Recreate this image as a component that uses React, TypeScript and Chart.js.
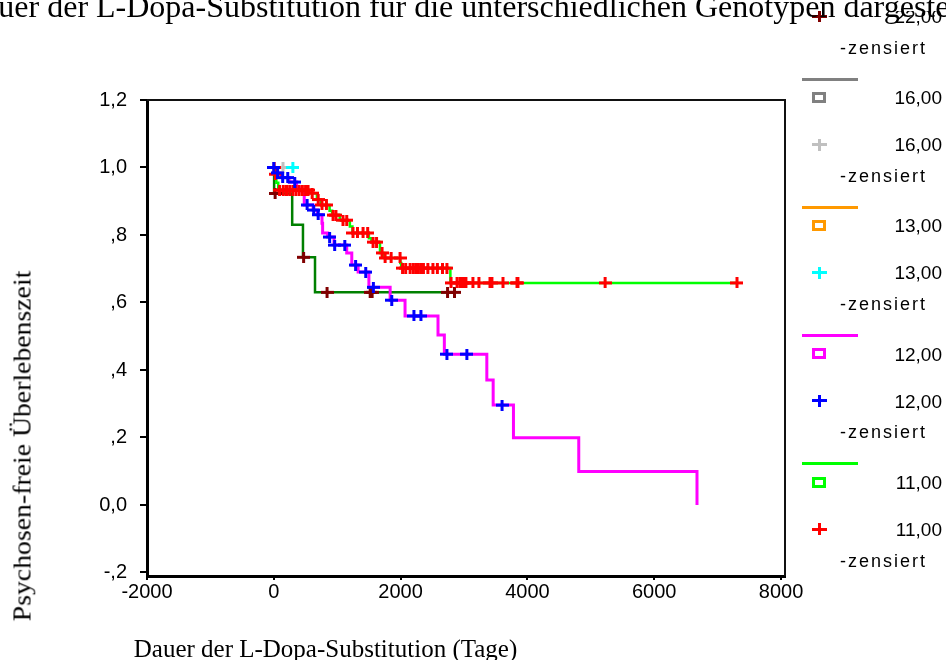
import { useEffect, useRef } from "react";
import { Chart, registerables } from "chart.js";

Chart.register(...registerables);

// ---------- data ----------
const xTicks = [-2000, 0, 2000, 4000, 6000, 8000];
const yTicks = [-0.2, 0.0, 0.2, 0.4, 0.6, 0.8, 1.0, 1.2];
const yTickLabels = ["-,2", "0,0", ",2", ",4", ",6", ",8", "1,0", "1,2"];

const xTitle = "Dauer der L-Dopa-Substitution (Tage)";
const yTitle = "Psychosen-freie Überlebenszeit";
const topText = "Dauer der L-Dopa-Substitution für die unterschiedlichen Genotypen dargestellt";

// Genotype 11,00
const g11Days = [0, 15, 40, 70, 560, 680, 740, 880, 920, 1040, 1200, 1240, 1500, 1540, 1675, 1740, 1995, 2010, 2785, 7305];
const g11Surv = [1.0, 0.98, 0.955, 0.933, 0.924, 0.905, 0.889, 0.872, 0.859, 0.844, 0.825, 0.806, 0.79, 0.779, 0.747, 0.732, 0.717, 0.702, 0.658, 0.658];
const g11Cens = [5, 25, 90, 150, 200, 250, 300, 350, 400, 450, 500, 540, 605, 700, 760, 830, 934, 980, 1091, 1150, 1249, 1320, 1407, 1480, 1565, 1620, 1707, 1755, 1850, 1991, 2030, 2080, 2150, 2200, 2240, 2280, 2320, 2360, 2430, 2510, 2580, 2660, 2730, 2795, 2890, 2935, 2970, 3000, 3030, 3140, 3235, 3410, 3440, 3615, 3835, 3850, 5225, 7305];

// Genotype 12,00
const g12Days = [0, 20, 120, 240, 360, 400, 480, 620, 690, 760, 770, 850, 950, 1150, 1230, 1330, 1500, 1835, 2070, 2590, 2690, 3360, 3460, 3780, 4810, 6675];
const g12Surv = [1.0, 0.984, 0.97, 0.957, 0.94, 0.93, 0.889, 0.874, 0.86, 0.835, 0.806, 0.794, 0.77, 0.747, 0.711, 0.69, 0.645, 0.607, 0.56, 0.504, 0.447, 0.37, 0.296, 0.199, 0.099, 0.0];
const g12Cens = [0, 60, 140, 220, 330, 525, 630, 700, 880, 960, 1120, 1290, 1450, 1570, 1860, 2210, 2320, 2730, 3045, 3600];

// Genotype 13,00
const g13Days = [0, 300];
const g13Surv = [1.0, 1.0];
const g13Cens = [300];

// Genotype 16,00
const g16Days = [0, 145];
const g16Surv = [1.0, 1.0];
const g16Cens = [145];

// Genotype 22,00
const g22Days = [0, 5, 290, 460, 650, 2850];
const g22Surv = [1.0, 0.923, 0.83, 0.734, 0.63, 0.63];
const g22Cens = [20, 470, 840, 1520, 1550, 2740, 2850];

const groupLabels = ["22,00", "16,00", "13,00", "12,00", "11,00"];
const censLabel = "-zensiert";

// ---------- styles ----------
const colors = {
  g11Line: "#00ff00", g11Cens: "#ff0000",
  g12Line: "#ff00ff", g12Cens: "#0000ff",
  g13Line: "#ff9900", g13Cens: "#00ffff",
  g16Line: "#808080", g16Cens: "#c0c0c0",
  g22Line: "#008000", g22Cens: "#800000",
};

const legendGroups = [
  { label: groupLabels[0], line: colors.g22Line, cens: colors.g22Cens },
  { label: groupLabels[1], line: colors.g16Line, cens: colors.g16Cens },
  { label: groupLabels[2], line: colors.g13Line, cens: colors.g13Cens },
  { label: groupLabels[3], line: colors.g12Line, cens: colors.g12Cens },
  { label: groupLabels[4], line: colors.g11Line, cens: colors.g11Cens },
];

function survAt(days: number[], surv: number[], d: number) {
  let v = surv[0];
  for (let i = 0; i < days.length; i++) if (days[i] <= d) v = surv[i];
  return v;
}

function makeCross(color: string, w = 13, h = 11, lw = 3) {
  const c = document.createElement("canvas");
  c.width = w;
  c.height = h;
  const ctx = c.getContext("2d")!;
  ctx.fillStyle = color;
  ctx.fillRect(0, Math.round((h - lw) / 2), w, lw);
  ctx.fillRect(Math.round((w - lw) / 2), 0, lw, h);
  return c;
}

function lineDs(days: number[], surv: number[], color: string, width: number) {
  return {
    type: "line" as const,
    data: days.map((d, i) => ({ x: d, y: surv[i] })),
    stepped: "before" as const,
    borderColor: color,
    borderWidth: width,
    pointRadius: 0,
    fill: false,
    tension: 0,
  };
}

function censDs(cens: number[], days: number[], surv: number[], color: string) {
  return {
    type: "line" as const,
    data: cens.map((d) => ({ x: d, y: survAt(days, surv, d) })),
    showLine: false,
    pointStyle: makeCross(color),
    pointRadius: 6,
    borderColor: color,
    backgroundColor: color,
  };
}

const boxPlugin = {
  id: "boxPlugin",
  afterDraw(chart: any) {
    const { ctx, chartArea } = chart;
    ctx.save();
    ctx.strokeStyle = "#111";
    ctx.lineWidth = 2;
    ctx.beginPath();
    ctx.moveTo(chartArea.left, chartArea.top);
    ctx.lineTo(chartArea.right, chartArea.top);
    ctx.lineTo(chartArea.right, chartArea.bottom);
    ctx.stroke();
    ctx.restore();
  },
};

function LegendPlus({ x, y, color }: { x: number; y: number; color: string }) {
  const w = 15, h = 12, t = 3;
  return (
    <div style={{ position: "absolute", left: x - w / 2, top: y - h / 2, width: w, height: h }}>
      <div style={{ position: "absolute", left: 0, top: (h - t) / 2, width: w, height: t, background: color }} />
      <div style={{ position: "absolute", left: (w - t) / 2, top: 0, width: t, height: h, background: color }} />
    </div>
  );
}

export default function App() {
  const ref = useRef<HTMLCanvasElement>(null);

  useEffect(() => {
    const datasets: any[] = [
      censDs(g12Cens, g12Days, g12Surv, colors.g12Cens),
      censDs(g11Cens, g11Days, g11Surv, colors.g11Cens),
      censDs(g13Cens, g13Days, g13Surv, colors.g13Cens),
      censDs(g16Cens, g16Days, g16Surv, colors.g16Cens),
      censDs(g22Cens, g22Days, g22Surv, colors.g22Cens),
      lineDs(g11Days, g11Surv, colors.g11Line, 2.5),
      lineDs(g12Days, g12Surv, colors.g12Line, 3),
      lineDs(g13Days, g13Surv, colors.g13Line, 2.5),
      lineDs(g16Days, g16Surv, colors.g16Line, 2.5),
      lineDs(g22Days, g22Surv, colors.g22Line, 2.5),
    ];
    const chart = new Chart(ref.current!, {
      type: "line",
      data: { datasets },
      plugins: [boxPlugin],
      options: {
        animation: false,
        responsive: false,
        events: [],
        layout: { padding: { left: 87, right: 161, top: 100, bottom: 44 } },
        plugins: { legend: { display: false }, tooltip: { enabled: false }, title: { display: false } },
        scales: {
          x: {
            type: "linear",
            min: -2000,
            max: 8063,
            afterBuildTicks: (s: any) => { s.ticks = xTicks.map((v) => ({ value: v })); },
            afterFit: (s: any) => { s.height = 40; },
            ticks: {
              autoSkip: false,
              maxRotation: 0,
              color: "#000",
              padding: 0,
              font: { family: "Liberation Sans", size: 20 },
              callback: (v: any) => String(v),
            },
            grid: { display: true, drawOnChartArea: false, drawTicks: true, tickLength: 4, color: "#000", lineWidth: 2 },
            border: { display: true, color: "#000", width: 3 },
          },
          y: {
            type: "linear",
            min: -0.2104,
            max: 1.2,
            afterBuildTicks: (s: any) => { s.ticks = yTicks.map((v) => ({ value: v })); },
            afterFit: (s: any) => { s.width = 60; },
            ticks: {
              autoSkip: false,
              color: "#000",
              padding: 13,
              font: { family: "Liberation Sans", size: 20 },
              callback: (_v: any, i: number) => yTickLabels[i],
            },
            grid: { display: true, drawOnChartArea: false, drawTicks: true, tickLength: 7, color: "#000", lineWidth: 2 },
            border: { display: true, color: "#000", width: 3 },
          },
        },
      },
    });
    return () => chart.destroy();
  }, []);

  const numFs = 19;
  const zensFs = 18;
  const blockStep = 128.2;

  return (
    <div style={{ position: "fixed", left: 0, top: 0, width: 946, height: 660, overflow: "hidden", background: "#fff" }}>
      <canvas ref={ref} width={946} height={660} style={{ position: "absolute", left: 0, top: 0, width: 946, height: 660 }} />
      <div style={{ position: "absolute", left: 325.5, top: 648, transform: "translate(-50%, -50%)", fontFamily: "Liberation Serif", fontSize: 25, lineHeight: "25px", whiteSpace: "nowrap", color: "#000" }}>
        {xTitle}
      </div>
      <div style={{ position: "absolute", left: 22, top: 446, transform: "translate(-50%, -50%) rotate(-90deg) scaleX(1.11)", fontFamily: "Liberation Serif", fontSize: 25, lineHeight: "25px", whiteSpace: "nowrap", color: "#000" }}>
        {yTitle}
      </div>
      {legendGroups.map((g, i) => {
        const lineY = 79 + (i - 1) * blockStep;
        const sqY = lineY + 18.5;
        const plusY = lineY + 65.5;
        const zensY = lineY + 98.5;
        const numStyle: any = { position: "absolute", right: 4, fontFamily: "Liberation Sans", fontSize: numFs, lineHeight: `${numFs}px`, whiteSpace: "nowrap", color: "#000" };
        return (
          <div key={i}>
            <div style={{ position: "absolute", left: 802, top: lineY - 1.5, width: 56, height: 3, background: g.line }} />
            <div style={{ position: "absolute", left: 812, top: sqY - 5.5, width: 14, height: 11, boxSizing: "border-box", border: `3px solid ${g.line}` }} />
            <div style={{ ...numStyle, top: sqY - 0.49 * numFs }}>{g.label}</div>
            <LegendPlus x={819} y={plusY} color={g.cens} />
            <div style={{ ...numStyle, top: plusY - 0.49 * numFs }}>{g.label}</div>
            <div style={{ position: "absolute", left: 840, top: zensY - 0.586 * zensFs, fontFamily: "Liberation Sans", fontSize: zensFs, lineHeight: `${zensFs}px`, letterSpacing: 2, whiteSpace: "nowrap", color: "#000" }}>
              {censLabel}
            </div>
          </div>
        );
      })}
      <div style={{ position: "absolute", left: 0, top: 0, width: 946, height: 11, background: "#fff" }} />
      <div style={{ position: "absolute", left: -39, top: -10, fontFamily: "Liberation Serif", fontSize: 32, lineHeight: "32px", whiteSpace: "nowrap", color: "#000" }}>
        {topText}
      </div>
    </div>
  );
}
